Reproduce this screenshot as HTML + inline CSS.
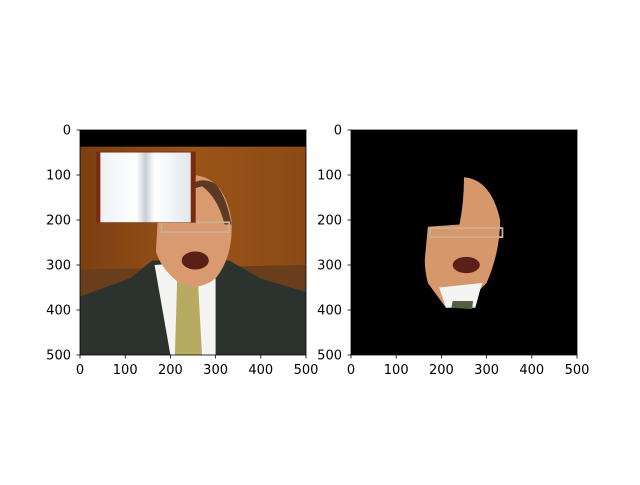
<!DOCTYPE html>
<html><head><meta charset="utf-8"><style>
body{margin:0;background:#fff;width:640px;height:480px;overflow:hidden}
text{font-family:"DejaVu Sans","Liberation Sans",sans-serif;font-size:13px;fill:#000}
</style></head><body>
<svg width="640" height="480">
<defs>
<linearGradient id="bg" x1="0" x2="1" y1="0" y2="0"><stop offset="0" stop-color="#7a3f12"/><stop offset="0.5" stop-color="#9a5418"/><stop offset="1" stop-color="#8a4a16"/></linearGradient>
<linearGradient id="page" x1="0" x2="1"><stop offset="0" stop-color="#eef0f4"/><stop offset="0.4" stop-color="#fff"/><stop offset="0.5" stop-color="#c8ccd4"/><stop offset="0.6" stop-color="#fff"/><stop offset="1" stop-color="#e4e6ec"/></linearGradient>
<clipPath id="c"><rect x="0" y="0" width="500" height="500"/></clipPath>
</defs>
<g id="left" transform="translate(80,130) scale(0.452,0.45)" clip-path="url(#c)">
<rect width="500" height="500" fill="url(#bg)"/>
<rect width="500" height="37" fill="#000"/>
<path d="M0,310 L500,300 L500,500 L0,500Z" fill="#6a3d1c"/>
<path d="M0,370 L110,330 L160,290 L330,290 L400,330 L500,360 L500,500 L0,500Z" fill="#2c332f"/>
<path d="M165,300 L300,290 L300,500 L200,500Z" fill="#f4f4f2"/>
<path d="M215,330 L260,320 L270,500 L210,500Z" fill="#b8aa60"/>
<path d="M172,200 Q175,100 250,100 Q320,105 335,200 Q340,280 300,330 Q260,360 220,340 Q180,310 168,270Z" fill="#d99a70"/>
<path d="M235,135 Q260,98 300,120 Q325,150 335,210 L320,210 Q305,150 270,125Z" fill="#5a3a22"/>
<rect x="180" y="205" width="150" height="22" fill="none" stroke="#c8b090" stroke-width="4"/>
<ellipse cx="255" cy="290" rx="30" ry="20" fill="#5a2018"/>
<rect x="36" y="48" width="220" height="158" fill="#7a2a10"/>
<rect x="45" y="50" width="200" height="155" fill="url(#page)"/>
</g>
<g transform="translate(351,130) scale(0.452,0.45)">
<rect width="500" height="500" fill="#000"/>
<path d="M250,105 Q310,110 330,200 Q330,270 300,340 L250,390 L210,395 L170,340 Q160,300 165,270 L170,215 L240,210 Q250,160 250,105Z" fill="#d6976a"/>
<rect x="175" y="218" width="160" height="20" fill="none" stroke="#c8b090" stroke-width="4"/>
<ellipse cx="255" cy="300" rx="30" ry="18" fill="#5a2018"/>
<path d="M195,350 L290,340 L275,395 L210,395Z" fill="#f4f4f2"/>
<path d="M225,380 L270,380 L268,398 L222,395Z" fill="#506040"/>
</g>
<g id="axes" fill="none" stroke="#000" stroke-width="0.8">
<rect x="80" y="130" width="226" height="225"/>
<rect x="351" y="130" width="226" height="225"/>
</g>
<g id="ticks"></g>
</svg>
<script>
const tickValues=[0,100,200,300,400,500];
const g=document.getElementById('ticks');
const ns='http://www.w3.org/2000/svg';
[[80,'left'],[351,'right']].forEach(([x0,nm])=>{
 tickValues.forEach(v=>{
  const px=x0+v*226/500, py=130+v*225/500;
  let l=document.createElementNS(ns,'line');l.setAttribute('x1',px);l.setAttribute('x2',px);l.setAttribute('y1',355);l.setAttribute('y2',358.5);l.setAttribute('stroke','#000');l.setAttribute('stroke-width','0.8');
  
  
  g.appendChild(l);
  let t=document.createElementNS(ns,'text');t.setAttribute('x',px);t.setAttribute('y',374);t.setAttribute('text-anchor','middle');t.textContent=v;
  
  
  g.appendChild(t);
  let l2=document.createElementNS(ns,'line');l2.setAttribute('x1',x0-3.5);l2.setAttribute('x2',x0);l2.setAttribute('y1',py);l2.setAttribute('y2',py);l2.setAttribute('stroke','#000');l2.setAttribute('stroke-width','0.8');
  
  
  g.appendChild(l2);
  let t2=document.createElementNS(ns,'text');t2.setAttribute('x',x0-9);t2.setAttribute('y',py+4.5);t2.setAttribute('text-anchor','end');t2.textContent=v;
  
  
  g.appendChild(t2);
 });
});
</script>
</body></html>
